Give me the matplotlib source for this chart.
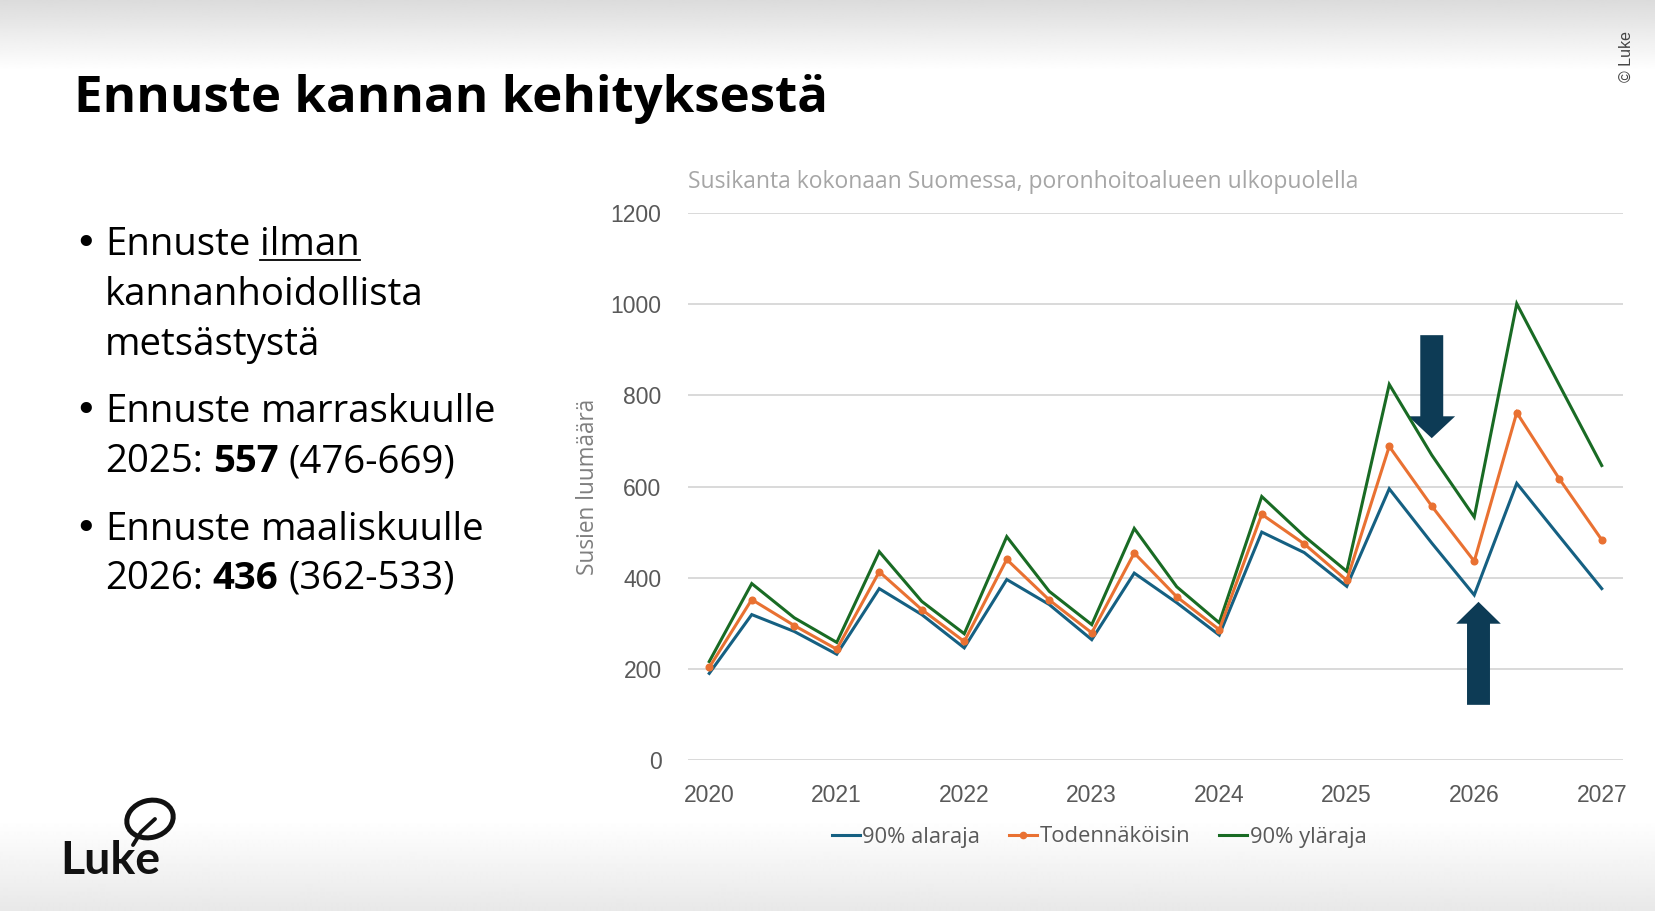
import numpy as np
import matplotlib
matplotlib.use("Agg")
import matplotlib.pyplot as plt
from matplotlib.lines import Line2D
from matplotlib.patches import FancyArrow, Ellipse

# ---------------- data ----------------
year_labels = ["2020", "2021", "2022", "2023", "2024", "2025", "2026", "2027"]
lower_90 = [190, 319, 282, 232, 376, 319, 246, 396, 341, 264, 410, 345,
            274, 500, 455, 381, 595, 476, 362, 607, 491, 376]
most_likely = [203, 352, 295, 243, 413, 330, 260, 440, 351, 279, 454, 358,
               286, 539, 474, 394, 688, 557, 436, 762, 617, 483]
upper_90 = [216, 387, 312, 258, 457, 348, 277, 490, 370, 297, 508, 380,
            301, 578, 491, 414, 824, 669, 533, 1001, 823, 646]
series_names = ["90% alaraja", "Todennäköisin", "90% yläraja"]
y_ticks = [0, 200, 400, 600, 800, 1000, 1200]

W, H = 1656, 911
fig = plt.figure(figsize=(W / 100, H / 100), dpi=100)
renderer = fig.canvas.get_renderer()


def fx(px):
    return px / W


def fy(py):
    return 1 - py / H


# ---------------- background gradient ----------------
bg = fig.add_axes([0, 0, 1, 1], zorder=-10)
bg.axis("off")
grad = np.ones(H)
rows = np.arange(H)
grad = np.where(rows < 70, 0.86 + 0.14 * (rows / 70.0), grad)
grad = np.where(rows > 820, 1 - 0.09 * ((rows - 820) / (H - 820.0)), grad)
bg.imshow(grad[:, None] * np.ones((1, 4)), cmap="gray", vmin=0, vmax=1,
          aspect="auto", extent=[0, 1, 0, 1], interpolation="bilinear")
bg.set_xlim(0, 1)
bg.set_ylim(0, 1)

# ---------------- helpers ----------------
def fit_size(text, target_w, family, weight="normal", base=30):
    t = fig.text(0, 0, text, fontsize=base, family=family, fontweight=weight)
    w = t.get_window_extent(renderer).width
    t.remove()
    return base * target_w / w


seg_font = ["Open Sans", "DejaVu Sans"]
arial = ["Liberation Sans", "DejaVu Sans"]

# ---------------- title ----------------
ts = fit_size("Ennuste kannan kehityksestä", 753, seg_font, "bold")
fig.text(fx(74), fy(112), "Ennuste kannan kehityksestä", fontsize=ts,
         family=seg_font, fontweight="bold", va="baseline", ha="left",
         color="black")

# ---------------- bullet text ----------------
bs = fit_size("Ennuste marraskuulle", 391, seg_font)


def text_w(s, weight="normal"):
    t = fig.text(0, 0, s, fontsize=bs, family=seg_font, fontweight=weight)
    w = t.get_window_extent(renderer).width
    t.remove()
    return w


space_w = text_w("n n") - text_w("nn")


def draw_runs(x_px, y_px, runs):
    x = x_px
    for s, weight, underline in runs:
        if s == " ":
            x += space_w
            continue
        t = fig.text(fx(x), fy(y_px), s, fontsize=bs, family=seg_font,
                     fontweight=weight, va="baseline", ha="left", color="black")
        bb = t.get_window_extent(renderer)
        if underline:
            fig.add_artist(Line2D([fx(bb.x0), fx(bb.x1)], [fy(y_px + 5), fy(y_px + 5)],
                                  color="black", lw=1.3))
        x += bb.width


bullet_x, text_x = 74, 105
lines = [
    (255, [("Ennuste", "normal", False), (" ", None, None), ("ilman", "normal", True)], True),
    (305, [("kannanhoidollista", "normal", False)], False),
    (355, [("metsästystä", "normal", False)], False),
    (422, [("Ennuste", "normal", False), (" ", None, None), ("marraskuulle", "normal", False)], True),
    (472, [("2025:", "normal", False), (" ", None, None), ("557", "bold", False),
           (" ", None, None), ("(476-669)", "normal", False)], False),
    (540, [("Ennuste", "normal", False), (" ", None, None), ("maaliskuulle", "normal", False)], True),
    (589, [("2026:", "normal", False), (" ", None, None), ("436", "bold", False),
           (" ", None, None), ("(362-533)", "normal", False)], False),
]
for y, runs, bullet in lines:
    if bullet:
        fig.text(fx(bullet_x), fy(y), "•", fontsize=bs, family=["DejaVu Sans"],
                 va="baseline", ha="left", color="black")
    draw_runs(text_x, y, runs)

# ---------------- chart ----------------
ax_l, ax_r, ax_t, ax_b = 688, 1623, 213, 760
ax = fig.add_axes([fx(ax_l), fy(ax_b), fx(ax_r - ax_l), (ax_b - ax_t) / H])
ax.patch.set_alpha(0)
idx = np.arange(len(most_likely))

c_blue, c_orange, c_green = "#156082", "#E97132", "#196B24"
ax.plot(idx, lower_90, color=c_blue, lw=2.2, solid_joinstyle="miter", zorder=3)
ax.plot(idx, most_likely, color=c_orange, lw=2.2, marker="o", markersize=4.8,
        solid_joinstyle="miter", zorder=4)
ax.plot(idx, upper_90, color=c_green, lw=2.2, solid_joinstyle="miter", zorder=3)

ax.set_xlim(-0.5, len(most_likely) - 0.5)
ax.set_ylim(0, 1200)
ax.set_yticks(y_ticks)
ax.set_yticklabels([str(v) for v in y_ticks])
ax.set_xticks(np.arange(0, len(most_likely), 3))
ax.set_xticklabels(year_labels)
ax.grid(axis="y", color="#d9d9d9", lw=1.4, zorder=0)
ax.set_axisbelow(True)
for sp in ax.spines.values():
    sp.set_visible(False)
ax.tick_params(axis="both", length=0, labelsize=16.5, labelcolor="#595959")
ax.tick_params(axis="y", pad=19)
ax.tick_params(axis="x", pad=17)
for lab in ax.get_xticklabels() + ax.get_yticklabels():
    lab.set_family(arial)

yl_size = fit_size("Susien luumäärä", 176, seg_font)
ax.text((588 - ax_l) / (ax_r - ax_l), 0.5, "Susien luumäärä", transform=ax.transAxes,
        rotation=90, ha="center", va="center", fontsize=yl_size, color="#7f7f7f",
        family=seg_font)

st = "Susikanta kokonaan Suomessa, poronhoitoalueen ulkopuolella"
st_size = fit_size(st, 670, seg_font)
fig.text(fx(688), fy(182), st, ha="left", va="center", fontsize=st_size,
         color="#a6a6a6", family=seg_font)

# arrows (annotations)
arrow_c = "#0D3B55"
ax.add_patch(FancyArrow(17.0, 932, 0, -226, width=0.54, head_width=1.1,
                        head_length=48, length_includes_head=True,
                        color=arrow_c, lw=0, zorder=2))
ax.add_patch(FancyArrow(18.1, 121, 0, 226, width=0.54, head_width=1.05,
                        head_length=48, length_includes_head=True,
                        color=arrow_c, lw=0, zorder=2, clip_on=False))

# legend
handles = [
    Line2D([], [], color=c_blue, lw=2.2),
    Line2D([], [], color=c_orange, lw=2.2, marker="o", markersize=4.5),
    Line2D([], [], color=c_green, lw=2.2),
]
lg_size = fit_size("90% alaraja", 118, seg_font)
fig.legend(handles, series_names, loc="center", bbox_to_anchor=(fx(1099), fy(837)),
           ncol=3, frameon=False, handlelength=1.3, handletextpad=0.1,
           columnspacing=1.3, labelcolor="#595959",
           prop={"family": seg_font, "size": lg_size})

# ---------------- logo & copyright ----------------
ls = fit_size("Luke", 100, ["Lato", "DejaVu Sans"], "bold")
fig.text(fx(60), fy(874), "Luke", fontsize=ls, family=["Lato", "DejaVu Sans"],
         fontweight="bold", va="baseline", ha="left", color="#111111")
logo_ax = fig.add_axes([0, 0, 1, 1], zorder=5)
logo_ax.set_xlim(0, W)
logo_ax.set_ylim(H, 0)
logo_ax.axis("off")
logo_ax.patch.set_alpha(0)
logo_ax.add_patch(Ellipse((150, 819), 47, 37, angle=-15, fill=False,
                          edgecolor="#111111", lw=3.6))
logo_ax.plot([155, 141, 133], [819, 832, 845], color="#111111", lw=2.8,
             solid_capstyle="round")

fig.text(fx(1626), fy(57), "© Luke", rotation=90, ha="center", va="center",
         fontsize=11.5, color="#444444", family=arial)

fig.savefig("out.png", dpi=100)
